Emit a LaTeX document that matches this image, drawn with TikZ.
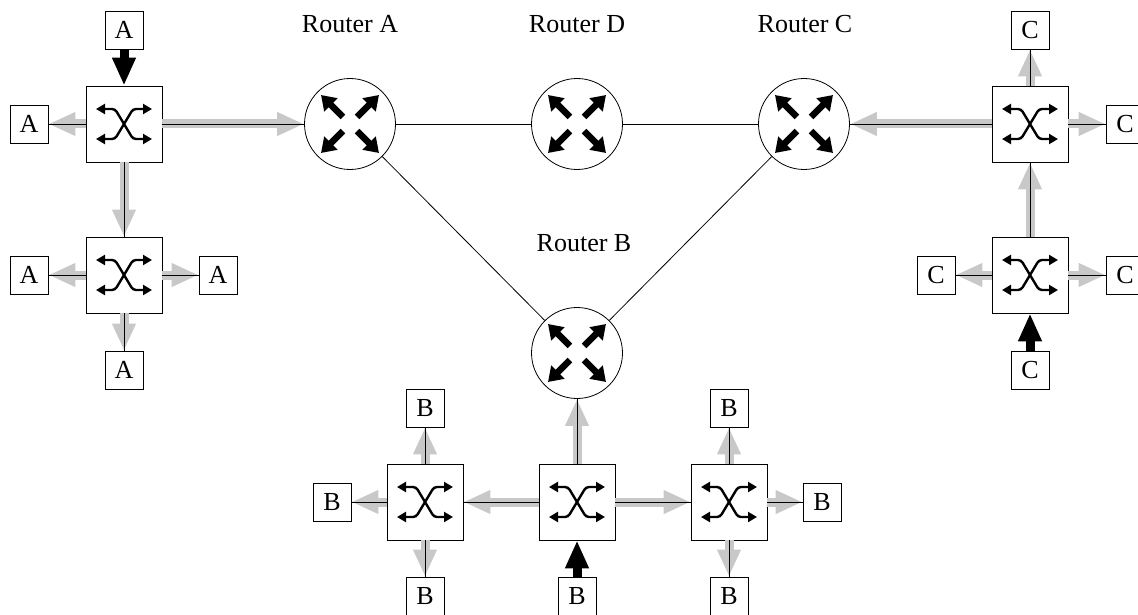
\documentclass[tikz,border=0pt]{standalone}
\usepackage{fontspec}
\setmainfont{Liberation Serif}
\usetikzlibrary{arrows.meta}
\definecolor{flowgray}{RGB}{200,200,200}

\begin{document}
\begin{tikzpicture}[x=1pt, y=-1pt,
  switch/.style={draw, line width=0.8pt, fill=white, minimum size=76pt, inner sep=0pt},
  host/.style={draw, line width=0.8pt, fill=white, minimum size=38pt, inner sep=0pt, font=\fontsize{26}{31}\selectfont},
  router/.style={draw, circle, line width=0.8pt, fill=white, minimum size=91pt, inner sep=0pt},
  rtitle/.style={anchor=base, inner sep=0pt, font=\fontsize{26}{31}\selectfont},
  flow/.style={draw=flowgray, line width=9pt, -{Triangle[length=27pt,width=22pt]}},
  inflow/.style={line width=9pt, -{Triangle[length=28pt,width=22pt]}},
  wire/.style={line width=0.8pt},
  xarrow/.style={line width=2.4pt, rounded corners=3pt, {Triangle[length=9pt,width=10pt]}-{Triangle[length=9pt,width=10pt]}},
  rarrow/.style={line width=6.5pt, -{Triangle[length=14pt,width=18pt]}}]
\useasboundingbox (0,0) rectangle (1138,615);

% routers
\node[router] (rA) at (350,124) {};
\node[router] (rD) at (577,124) {};
\node[router] (rC) at (804,124) {};
\node[router] (rB) at (577,353) {};
\node[rtitle] (tA) at (350,33) {Router A};
\node[rtitle] (tD) at (577,33) {Router D};
\node[rtitle] (tC) at (805,33) {Router C};
\node[rtitle] (tB) at (584,251) {Router B};

\draw[wire] (rA) -- (rD) -- (rC);
\draw[wire] (rA) -- (rB) -- (rC);

\foreach \r in {rA,rB,rC,rD}
  \foreach \a in {45,135,225,315}
    \draw[rarrow] ([shift={(\a:10)}]\r.center) -- ([shift={(\a:41)}]\r.center);

% switches
\foreach \n/\x/\y in {sA1/124/124, sA2/124/275, sB1/425/502, sB2/577/502,
                      sB3/729/502, sC1/1030/124, sC2/1030/275}
{
  \node[switch] (\n) at (\x,\y) {};
  \begin{scope}[shift={(\x,\y)}]
    \draw[xarrow] (-28,-15) -- (-9,-15) -- (9,15) -- (28,15);
    \draw[xarrow] (-28,15) -- (-9,15) -- (9,-15) -- (28,-15);
  \end{scope}
}

% hosts
\foreach \n/\x/\y/\t in {hA1/124/30/A, hA2/29/124/A, hA3/29/275/A, hA4/218/275/A, hA5/124/370/A,
                         hB1/425/408/B, hB2/332/502/B, hB3/425/596/B, hB4/577/596/B,
                         hB5/729/408/B, hB6/822/502/B, hB7/729/596/B,
                         hC1/1030/30/C, hC2/1125/124/C, hC3/936/275/C, hC4/1125/275/C, hC5/1030/370/C}
  \node[host] (\n) at (\x,\y) {\t};

% traffic
\foreach \s/\t in {sA1/hA2, sA1/rA, sA1/sA2, sA2/hA3, sA2/hA4, sA2/hA5,
                   sB2/sB1, sB2/sB3, sB2/rB, sB1/hB1, sB1/hB2, sB1/hB3,
                   sB3/hB5, sB3/hB6, sB3/hB7,
                   sC1/rC, sC1/hC1, sC1/hC2, sC2/sC1, sC2/hC3, sC2/hC4}
{
  \draw[flow] (\s) -- (\t);
  \draw[wire] (\s) -- (\t);
}

\draw[inflow] (hA1) -- (sA1);
\draw[inflow] (hB4) -- (sB2);
\draw[inflow] (hC5) -- (sC2);
\end{tikzpicture}
\end{document}
